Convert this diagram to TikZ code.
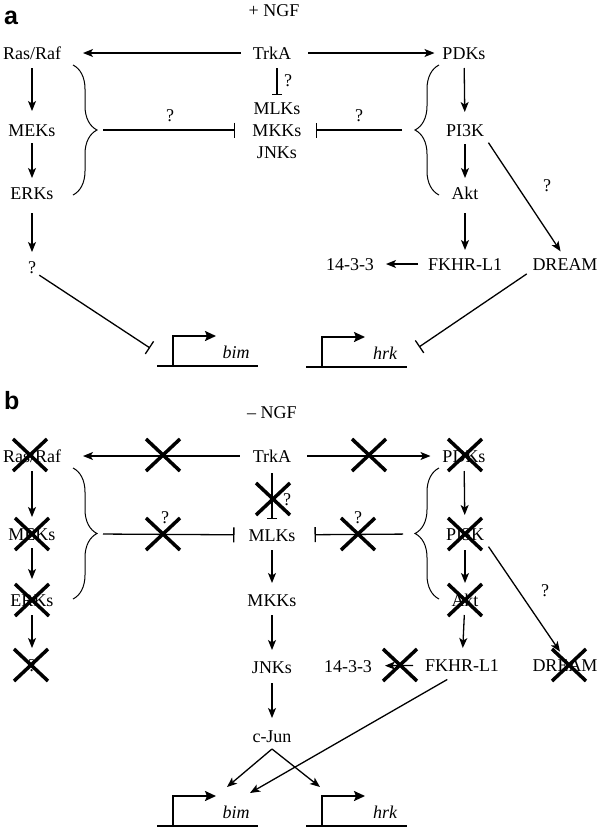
\documentclass[tikz,border=0pt]{standalone}
\usepackage{fontspec}
\setmainfont{Liberation Serif}
\setsansfont{Liberation Sans}
\usetikzlibrary{calc,arrows.meta,decorations.pathreplacing}

\begin{document}
\begin{tikzpicture}[x=1pt,y=-1pt,
  lbl/.style={inner sep=0pt, outer sep=0pt, text height=12pt, text depth=0pt,
    font=\fontsize{18}{22}\selectfont},
  gene/.style={lbl, font=\fontsize{18}{22}\selectfont\itshape},
  panel/.style={inner sep=0pt, anchor=base west, font=\sffamily\bfseries\fontsize{25}{25}\selectfont},
  arr/.style={line width=1.3pt, -{Stealth[length=10pt,width=8pt,inset=2.5pt]},
    shorten <=9pt, shorten >=11pt},
  inh/.style={line width=1.3pt, -{Bar[width=15pt,line width=1.3pt]}},
  inhsmall/.style={line width=1.3pt, -{Bar[width=10pt,line width=1.3pt]}},
  brc/.style={line width=1pt, decorate, decoration={brace, amplitude=24pt, aspect=0.5}},
  dna/.style={line width=2pt},
  tss/.style={line width=2pt, -{Stealth[length=11pt,width=10pt,inset=2pt]}},
  xmark/.style={line width=3.5pt}]
  \useasboundingbox (0,0) rectangle (600,828);

  %% Promoters with their genes
  \foreach \n/\x/\y/\g in {bimA/173/366/bim, hrkA/322/367/hrk, bimB/173/826/bim, hrkB/322/826/hrk}
  {
    \coordinate (\n) at (\x,\y);
    \draw[dna] ($(\n)+(-16,0)$) -- ($(\n)+(85,0)$);
    \draw[tss] (\n) -- ++(0,-30) -- ++(43,0);
    \node[gene] (\n-lbl) at ($(\n)+(63,-14)$) {\g};
  }

  %% Panel a: + NGF
  \node[panel] (labA) at (4,24) {a};
  \node[lbl] (ngfA) at (274,10) {+ NGF};

  \node[lbl] (rasA)   at (32,53)   {Ras/Raf};
  \node[lbl] (meksA)  at (32,130)  {MEKs};
  \node[lbl] (erksA)  at (32,193)  {ERKs};
  \node[lbl] (qA)     at (32,267)  {?};
  \node[lbl] (trkA)   at (272,53)  {TrkA};
  \node[lbl] (mlkA)   at (277,108) {MLKs};
  \node[lbl] (mkkA)   at (277,130) {MKKs};
  \node[lbl] (jnkA)   at (277,152) {JNKs};
  \node[lbl] (pdkA)   at (464,53)  {PDKs};
  \node[lbl] (pi3kA)  at (465,130) {PI3K};
  \node[lbl] (aktA)   at (465,193) {Akt};
  \node[lbl] (fkhrA)  at (465,264) {FKHR-L1};
  \node[lbl] (p1433A) at (350,264) {14-3-3};
  \node[lbl] (dreamA) at (565,264) {DREAM};

  %% Braces round the two cascades
  \draw[brc] (73,65) -- (73,195);
  \draw[brc, decoration={mirror}] (439,65) -- (439,195);
  \coordinate (brLA) at (97,130);
  \coordinate (brRA) at (415,130);

  \draw[arr, shorten <=12pt, shorten >=22pt] (trkA) -- (rasA);
  \draw[arr, shorten <=17pt, shorten >=8pt] (trkA) -- (pdkA);
  \draw[arr, shorten >=13pt] (rasA) -- (meksA);
  \draw[arr, shorten <=7pt, shorten >=9pt] (meksA) -- (erksA);
  \draw[arr, shorten <=14pt, shorten >=9pt] (erksA) -- (qA);
  \draw[arr, shorten >=12pt] (pdkA) -- (pi3kA);
  \draw[arr, shorten <=8pt, shorten >=9pt] (pi3kA) -- (aktA);
  \draw[arr, shorten <=14pt, shorten >=8pt] (aktA) -- (fkhrA);
  \draw[arr, shorten <=10pt, shorten >=12pt] (fkhrA) -- (p1433A);
  \draw[arr, shorten <=8pt, shorten >=8pt] (pi3kA.south east) -- (dreamA.north);
  \draw[inhsmall, shorten <=9pt, shorten >=7pt] (mlkA |- trkA.south) -- (mlkA.north);
  \draw[inh, shorten <=6pt, shorten >=17pt] (brLA) -- (mkkA);
  \draw[inh, shorten <=13pt, shorten >=14pt] (brRA) -- (mkkA);
  \coordinate (bimA-in) at ($(bimA)+(-23,-18)$);
  \coordinate (hrkA-in) at ($(hrkA)+(97,-20)$);
  \draw[inh, shorten <=4pt] (qA.south east) -- (bimA-in);
  \draw[inh, shorten <=7pt] (dreamA.south west) -- (hrkA-in);

  \node[lbl] (qTA) at (288,80)  {?};
  \node[lbl] (qLA) at (170,115) {?};
  \node[lbl] (qRA) at (359,115) {?};
  \node[lbl] (qDA) at (547,185) {?};

  %% Panel b: - NGF
  \node[panel] (labB) at (4,409) {b};
  \node[lbl] (ngfB) at (272,412) {\textendash\ NGF};

  \node[lbl] (rasB)   at (32,456)  {Ras/Raf};
  \node[lbl] (meksB)  at (32,534)  {MEKs};
  \node[lbl] (erksB)  at (32,600)  {ERKs};
  \node[lbl] (qB)     at (32,665)  {?};
  \node[lbl] (trkB)   at (272,456) {TrkA};
  \node[lbl] (mlkB)   at (272,535) {MLKs};
  \node[lbl] (mkkB)   at (272,600) {MKKs};
  \node[lbl] (jnkB)   at (272,667) {JNKs};
  \node[lbl] (cjunB)  at (272,736) {c-Jun};
  \node[lbl] (pdkB)   at (464,456) {PDKs};
  \node[lbl] (pi3kB)  at (465,534) {PI3K};
  \node[lbl] (aktB)   at (465,600) {Akt};
  \node[lbl] (fkhrB)  at (462,665) {FKHR-L1};
  \node[lbl] (p1433B) at (348,666) {14-3-3};
  \node[lbl] (dreamB) at (565,665) {DREAM};

  \draw[brc] (73,468) -- (73,599);
  \draw[brc, decoration={mirror}] (439,468) -- (439,599);
  \coordinate (brLB) at (97,534);
  \coordinate (brRB) at (415,534);

  \draw[arr, shorten <=13pt, shorten >=22pt] (trkB) -- (rasB);
  \draw[arr, shorten <=16pt, shorten >=12pt] (trkB) -- (pdkB);
  \draw[arr] (rasB) -- (meksB);
  \draw[arr, shorten <=8pt, shorten >=15pt] (meksB) -- (erksB);
  \draw[arr] (erksB) -- (qB);
  \draw[arr, shorten >=13pt] (pdkB) -- (pi3kB);
  \draw[arr, shorten <=10pt] (pi3kB) -- (aktB);
  \draw[arr] (aktB) -- (fkhrB);
  \draw[arr, shorten <=12pt, shorten >=13pt] (fkhrB) -- (p1433B);
  \draw[arr, shorten <=8pt, shorten >=9pt] (pi3kB.south east) -- (dreamB.north);
  \draw[arr] (mlkB) -- (mkkB);
  \draw[arr] (mkkB) -- (jnkB);
  \draw[arr, shorten <=10pt, shorten >=12pt] (jnkB) -- (cjunB);
  \draw[inhsmall, shorten <=11pt, shorten >=10pt] (trkB.south) -- (mlkB.north);
  \draw[inh, shorten <=6pt, shorten >=14pt] (brLB) -- (mlkB);
  \draw[inh, shorten <=12pt, shorten >=19pt] (brRB) -- (mlkB);

  %% c-Jun and FKHR-L1 onto the promoters
  \coordinate (split) at ($(cjunB.south)+(0,7)$);
  \coordinate (bimB-in) at ($(bimB)+(54,-39)$);
  \coordinate (hrkB-in) at ($(hrkB)+(-2,-39)$);
  \coordinate (bimB-fk) at ($(bimB)+(77,-33)$);
  \draw[arr, shorten <=0pt, shorten >=0pt] (split) -- (bimB-in);
  \draw[arr, shorten <=0pt, shorten >=0pt] (split) -- (hrkB-in);
  \draw[arr, shorten <=17pt, shorten >=0pt] (fkhrB.south) -- (bimB-fk);

  \node[lbl] (qTB) at (287,499) {?};
  \node[lbl] (qLB) at (165,517) {?};
  \node[lbl] (qRB) at (358,517) {?};
  \node[lbl] (qDB) at (545,590) {?};

  %% Crosses over what is lost without NGF
  \foreach \x/\y in {30/455, 163/455, 369/455, 465/455, 273/499, 32/534, 163/534,
                     358/534, 465/534, 32/600, 465/600, 31/665, 400/665, 569/665}
  {
    \draw[xmark] (\x-17,\y-16) -- (\x+17,\y+16);
    \draw[xmark] (\x-17,\y+16) -- (\x+17,\y-16);
  }
\end{tikzpicture}
\end{document}
